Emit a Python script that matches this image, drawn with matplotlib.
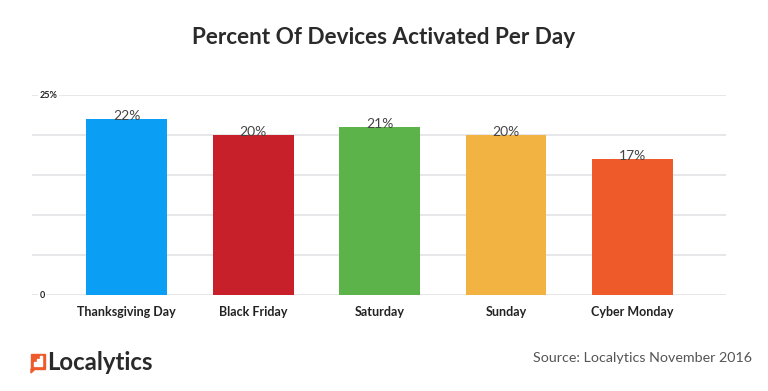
import matplotlib.pyplot as plt
from matplotlib.patches import Rectangle, Polygon

# data
days = ["Thanksgiving Day", "Black Friday", "Saturday", "Sunday", "Cyber Monday"]
pct = [22, 20, 21, 20, 17]
bar_colors = ["#0A9EF5", "#C8202B", "#5BB34A", "#F2B343", "#EF5A2A"]

plt.rcParams["font.family"] = ["Lato", "DejaVu Sans"]

fig = plt.figure(figsize=(7.68, 3.91), dpi=100)
ax = fig.add_axes([32 / 768, 1 - 295 / 391, 694 / 768, 200 / 391])

x = range(len(days))
ax.bar(x, pct, width=0.64, color=bar_colors, zorder=2)
ax.set_xlim(-0.75, 4.74)
ax.set_ylim(0, 25)

# gridlines
for g in range(0, 26, 5):
    ax.axhline(g, color="#E3E3E6", lw=1.2, zorder=1)

for s in ax.spines.values():
    s.set_visible(False)
ax.set_xticks([])
ax.set_yticks([])

# y labels sitting on the gridlines
for v, lab in [(25, "25%"), (0, "0")]:
    ax.text(-0.69, v, lab, ha="left", va="center", fontsize=6.5, fontweight="bold",
            color="#222222", zorder=3,
            bbox=dict(facecolor="white", edgecolor="none", pad=1.2))

for i, v in enumerate(pct):
    ax.text(i, v - 0.4, f"{v}%", ha="center", va="bottom", fontsize=10,
            color="#444444", zorder=3)
    ax.text(i, -1.4, days[i], ha="center", va="top", fontsize=9,
            fontweight="bold", color="#222222")

fig.text(0.5, 1 - 37 / 391, "Percent Of Devices Activated Per Day", ha="center",
         va="center", fontsize=16.2, fontweight="bold", color="#2A2A2A")

# logo
fig.patches.append(Rectangle((31 / 768, 1 - 369 / 391), 14 / 768, 15 / 391,
                             transform=fig.transFigure, color="#EF5A2A"))
fig.patches.append(Polygon([(31 / 768, 1 - 369 / 391), (35 / 768, 1 - 369 / 391),
                            (31 / 768, 1 - 373 / 391)],
                           transform=fig.transFigure, color="#EF5A2A"))
for k, h in enumerate([4, 7, 10]):
    fig.patches.append(Rectangle(((34 + 3 * k) / 768, 1 - 366 / 391), 2 / 768, h / 391,
                                 transform=fig.transFigure, color="white"))
fig.text(47 / 768, 1 - 362 / 391, "Localytics", ha="left", va="center",
         fontsize=17.3, fontweight="bold", color="#2A2A2A")

fig.text(752 / 768, 1 - 358 / 391, "Source: Localytics November 2016", ha="right",
         va="center", fontsize=10.3, color="#555555")

fig.savefig("out.png", dpi=100)
